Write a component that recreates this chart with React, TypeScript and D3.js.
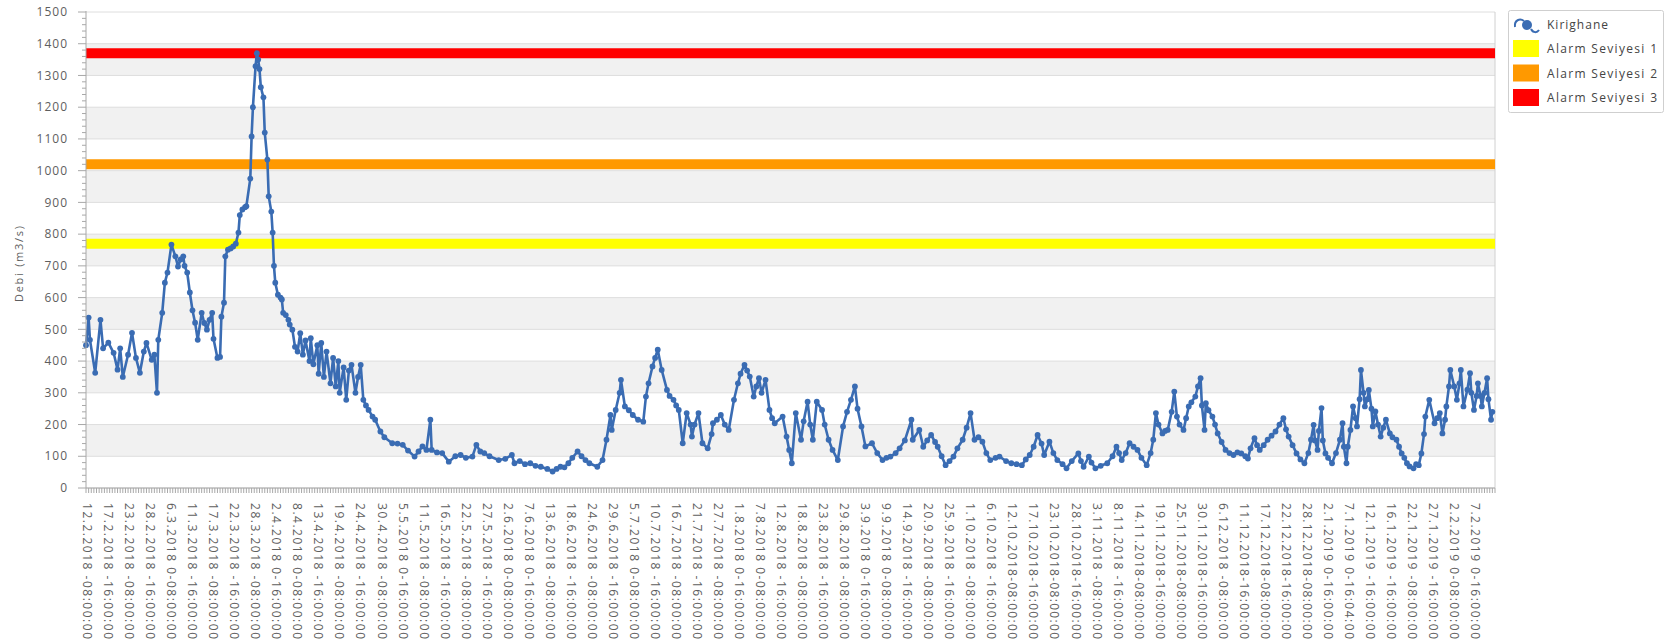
import React from "react";
import * as d3 from "d3";

// ---------- data ----------
const seriesName = "Kirighane";
const yTitle = "Debi (m3/s)";
const alarmNames = ["Alarm Seviyesi 1", "Alarm Seviyesi 2", "Alarm Seviyesi 3"];
const alarmLevels = [770, 1020, 1370];
const alarmColors = ["#ffff00", "#ff9900", "#ff0000"];
const yTicks = [0, 100, 200, 300, 400, 500, 600, 700, 800, 900, 1000, 1100, 1200, 1300, 1400, 1500];

const xLabels = [
  "12.2.2018 -08:00:00", "17.2.2018 -16:00:00", "23.2.2018 -08:00:00", "28.2.2018 -16:00:00",
  "6.3.2018 0-08:00:00", "11.3.2018 -16:00:00", "17.3.2018 -08:00:00", "22.3.2018 -16:00:00",
  "28.3.2018 -08:00:00", "2.4.2018 0-16:00:00", "8.4.2018 0-08:00:00", "13.4.2018 -16:00:00",
  "19.4.2018 -08:00:00", "24.4.2018 -16:00:00", "30.4.2018 -08:00:00", "5.5.2018 0-16:00:00",
  "11.5.2018 -08:00:00", "16.5.2018 -16:00:00", "22.5.2018 -08:00:00", "27.5.2018 -16:00:00",
  "2.6.2018 0-08:00:00", "7.6.2018 0-16:00:00", "13.6.2018 -08:00:00", "18.6.2018 -16:00:00",
  "24.6.2018 -08:00:00", "29.6.2018 -16:00:00", "5.7.2018 0-08:00:00", "10.7.2018 -16:00:00",
  "16.7.2018 -08:00:00", "21.7.2018 -16:00:00", "27.7.2018 -08:00:00", "1.8.2018 0-16:00:00",
  "7.8.2018 0-08:00:00", "12.8.2018 -16:00:00", "18.8.2018 -08:00:00", "23.8.2018 -16:00:00",
  "29.8.2018 -08:00:00", "3.9.2018 0-16:00:00", "9.9.2018 0-08:00:00", "14.9.2018 -16:00:00",
  "20.9.2018 -08:00:00", "25.9.2018 -16:00:00", "1.10.2018 -08:00:00", "6.10.2018 -16:00:00",
  "12.10.2018-08:00:00", "17.10.2018-16:00:00", "23.10.2018-08:00:00", "28.10.2018-16:00:00",
  "3.11.2018 -08:00:00", "8.11.2018 -16:00:00", "14.11.2018-08:00:00", "19.11.2018-16:00:00",
  "25.11.2018-08:00:00", "30.11.2018-16:00:00", "6.12.2018 -08:00:00", "11.12.2018-16:00:00",
  "17.12.2018-08:00:00", "22.12.2018-16:00:00", "28.12.2018-08:00:00", "2.1.2019 0-16:00:00",
  "7.1.2019 0-16:04:00", "12.1.2019 -16:00:00", "16.1.2019 -16:00:00", "22.1.2019 -08:00:00",
  "27.1.2019 -16:00:00", "2.2.2019 0-08:00:00", "7.2.2019 0-16:00:00",
];
// one label every 16 samples (8-hourly readings), first label on sample 1
const labelEvery = 16;
const labelOffset = 1;
const sampleCount = 1072;

// sample index (8 h steps) and flow (m3/s)
const sampleIdx = [
  0, 2, 3, 7, 11, 13, 17, 21, 24, 26, 28, 32, 35, 38, 41, 44, 46, 50, 52, 54, 55, 58, 60, 62, 65, 68, 70, 72, 74, 75, 77, 79, 81, 83, 85, 88, 90, 92, 94, 96, 97, 100, 102, 103, 105, 106, 108, 110, 112, 114, 116, 117, 119, 121, 122, 125, 126, 127, 129, 130, 131, 132, 133, 135, 136, 138, 139, 141, 142, 143, 144, 146, 148, 149, 150, 152, 154, 155, 157, 159, 161, 163, 165, 167, 170, 171, 173, 176, 177, 179, 181, 183, 186, 188, 190, 192, 193, 196, 198, 200, 202, 205, 207, 209, 211, 213, 215, 218, 220, 224, 227, 233, 237, 241, 245, 250, 253, 256, 259, 262, 263, 267, 271, 276, 281, 285, 289, 294, 297, 300, 303, 307, 314, 319, 324, 326, 330, 334, 338, 342, 346, 351, 355, 358, 361, 364, 367, 370, 374, 377, 380, 383, 389, 393, 396, 399, 400, 403, 406, 407, 410, 413, 416, 420, 424, 426, 428, 431, 433, 435, 438, 442, 444, 447, 449, 451, 454, 457, 460, 461, 463, 466, 469, 473, 476, 477, 480, 483, 486, 489, 493, 496, 498, 501, 503, 505, 508, 510, 512, 514, 517, 520, 522, 524, 530, 533, 535, 537, 540, 544, 546, 549, 551, 553, 556, 560, 562, 565, 568, 572, 576, 579, 582, 585, 587, 590, 593, 598, 602, 606, 609, 612, 616, 619, 623, 628, 629, 634, 637, 640, 643, 646, 648, 651, 654, 657, 660, 663, 667, 670, 673, 676, 679, 682, 685, 688, 692, 695, 700, 704, 708, 712, 715, 718, 721, 724, 727, 729, 733, 736, 739, 743, 746, 750, 755, 757, 759, 763, 765, 768, 772, 777, 781, 784, 786, 788, 791, 794, 797, 800, 803, 807, 810, 812, 814, 816, 819, 821, 823, 826, 828, 830, 832, 835, 837, 839, 841, 844, 846, 848, 849, 851, 852, 854, 857, 859, 861, 864, 867, 870, 873, 876, 879, 882, 884, 886, 889, 891, 893, 896, 899, 902, 905, 908, 911, 913, 915, 918, 921, 924, 927, 930, 932, 934, 935, 937, 938, 940, 941, 943, 945, 948, 951, 954, 956, 957, 959, 960, 962, 964, 966, 967, 969, 970, 972, 973, 975, 976, 978, 979, 981, 983, 985, 987, 989, 992, 994, 997, 999, 1001, 1003, 1005, 1007, 1010, 1012, 1014, 1016, 1018, 1019, 1022, 1026, 1028, 1030, 1032, 1034, 1035, 1037, 1038, 1041, 1043, 1045, 1046, 1048, 1051, 1053, 1054, 1056, 1058, 1059, 1061, 1062, 1064, 1066, 1067, 1069, 1070,
];
const flow = [
  450, 537, 467, 363, 530, 440, 458, 426, 373, 440, 350, 420, 489, 410, 363, 430, 457, 404, 420, 300, 467, 552, 647, 679, 767, 730, 698, 720, 730, 700, 679, 616, 560, 521, 467, 552, 520, 499, 530, 552, 470, 410, 413, 540, 584, 730, 751, 755, 761, 770, 805, 860, 878, 885, 888, 975, 1108, 1200, 1329, 1370, 1350, 1320, 1263, 1231, 1120, 1035, 919, 871, 805, 700, 647, 609, 600, 594, 552, 545, 530, 515, 499, 445, 430, 488, 420, 465, 400, 472, 390, 450, 360, 457, 350, 430, 330, 410, 320, 400, 300, 380, 278, 370, 388, 300, 350, 388, 278, 260, 246, 225, 215, 178, 160, 141, 140, 136, 118, 99, 115, 131, 120, 215, 120, 112, 110, 83, 100, 104, 95, 99, 136, 115, 110, 100, 88, 92, 104, 78, 85, 75, 78, 70, 67, 60, 52, 60, 67, 65, 78, 95, 115, 100, 88, 78, 67, 88, 152, 230, 183, 246, 300, 341, 257, 245, 230, 215, 209, 288, 330, 383, 410, 436, 372, 309, 290, 278, 260, 246, 141, 236, 200, 162, 200, 236, 141, 125, 170, 204, 215, 230, 200, 183, 278, 330, 360, 388, 370, 351, 288, 320, 346, 300, 341, 246, 220, 204, 225, 162, 120, 78, 236, 152, 210, 272, 200, 152, 272, 246, 200, 152, 120, 88, 194, 240, 278, 320, 250, 194, 131, 141, 110, 88, 95, 99, 110, 125, 150, 215, 152, 183, 130, 150, 167, 145, 130, 100, 72, 85, 99, 125, 152, 190, 236, 152, 160, 146, 110, 88, 95, 99, 85, 78, 75, 72, 90, 104, 130, 167, 140, 104, 146, 110, 88, 75, 62, 85, 109, 85, 67, 99, 80, 62, 70, 78, 100, 130, 110, 88, 110, 141, 130, 120, 95, 72, 110, 152, 236, 200, 172, 180, 183, 240, 304, 225, 200, 183, 220, 257, 270, 288, 320, 346, 260, 183, 267, 245, 225, 200, 172, 145, 120, 110, 104, 112, 109, 100, 93, 125, 157, 135, 120, 135, 152, 165, 178, 200, 220, 185, 162, 135, 109, 90, 78, 110, 152, 199, 150, 120, 180, 252, 150, 109, 95, 78, 110, 152, 204, 130, 78, 130, 183, 257, 220, 194, 280, 372, 300, 257, 280, 309, 250, 194, 241, 200, 162, 190, 215, 172, 160, 152, 130, 109, 95, 78, 68, 62, 75, 72, 109, 170, 225, 278, 204, 220, 236, 172, 215, 257, 320, 372, 320, 278, 330, 372, 257, 310, 362, 300, 246, 290, 330, 290, 257, 300, 346, 280, 215, 240,
];

// ---------- chart ----------
const W = 1672;
const H = 644;
const M = { left: 86, right: 1495, top: 12, bottom: 488 };
const BLUE = "#3a6cb3";
const AXIS = "#a8a8a8";
const TXT = "#5e5e5e";
const FONT = "'Segoe UI', 'Open Sans', 'Liberation Sans', sans-serif";

export default function App() {
  const x = d3.scaleLinear().domain([0, sampleCount]).range([M.left, M.right]);
  const y = d3.scaleLinear().domain([0, 1500]).range([M.bottom, M.top]);
  const pts = sampleIdx.map((s, i) => ({ s, v: flow[i] }));
  const line = d3
    .line<{ s: number; v: number }>()
    .x((d) => x(d.s))
    .y((d) => y(d.v));

  const bands = yTicks.filter((t) => t < 1500 && Math.round(t / 100) % 2 === 1);
  const minorY = d3.range(0, 1501, 20).filter((v) => v % 100 !== 0);
  const minorX = d3.range(0, sampleCount + 1, 2);

  return (
    <svg
      width={W}
      height={H}
      style={{ position: "absolute", left: 0, top: 0, background: "#fff" }}
      fontFamily={FONT}
    >
      <rect x={0} y={0} width={W} height={H} fill="#fff" />
      {/* bands */}
      {bands.map((b) => (
        <rect
          key={"b" + b}
          x={M.left}
          y={y(b + 100)}
          width={M.right - M.left}
          height={y(b) - y(b + 100)}
          fill="#f1f1f1"
        />
      ))}
      {/* grid lines */}
      {yTicks.map((t) => (
        <line key={"g" + t} x1={M.left} x2={M.right} y1={y(t)} y2={y(t)} stroke="#dedede" strokeWidth={1} />
      ))}
      {/* right border */}
      <line x1={M.right} x2={M.right} y1={M.top} y2={M.bottom} stroke="#d0d0d0" />
      {/* alarm levels */}
      {alarmLevels.map((a, i) => (
        <line
          key={"a" + i}
          x1={M.left}
          x2={M.right}
          y1={y(a)}
          y2={y(a)}
          stroke={alarmColors[i]}
          strokeWidth={10}
        />
      ))}
      {/* series */}
      <path d={line(pts) || ""} fill="none" stroke={BLUE} strokeWidth={2.6} strokeLinejoin="round" />
      {pts.map((p, i) => (
        <circle key={"p" + i} cx={x(p.s)} cy={y(p.v)} r={2.9} fill={BLUE} />
      ))}
      {/* y axis */}
      <line x1={M.left} x2={M.left} y1={M.top - 1} y2={M.bottom} stroke={AXIS} />
      {yTicks.map((t) => (
        <g key={"yt" + t}>
          <line x1={M.left - 8} x2={M.left} y1={y(t)} y2={y(t)} stroke={AXIS} />
          <text
            x={68}
            y={y(t)}
            dy="0.35em"
            textAnchor="end"
            fontSize={12}
            letterSpacing={1}
            fill={TXT}
          >
            {t}
          </text>
        </g>
      ))}
      {minorY.map((v) => (
        <line key={"my" + v} x1={M.left - 4} x2={M.left} y1={y(v)} y2={y(v)} stroke={AXIS} />
      ))}
      <text
        transform={`translate(19,${(M.top + M.bottom) / 2 + 14}) rotate(-90)`}
        textAnchor="middle"
        dy="0.35em"
        fontSize={11}
        textLength={76}
        lengthAdjust="spacing"
        fill={TXT}
      >
        {yTitle}
      </text>
      {/* x axis */}
      <line x1={M.left} x2={M.right} y1={M.bottom} y2={M.bottom} stroke={AXIS} />
      {minorX.map((s) => (
        <line key={"mx" + s} x1={x(s)} x2={x(s)} y1={M.bottom} y2={M.bottom + 5} stroke={AXIS} />
      ))}
      {xLabels.map((l, k) => {
        const xs = x(labelOffset + k * labelEvery);
        return (
          <text
            key={"xl" + k}
            transform={`translate(${xs},503) rotate(90)`}
            dy="0.35em"
            fontSize={12}
            textLength={136}
            lengthAdjust="spacing"
            fill={TXT}
          >
            {l}
          </text>
        );
      })}
      {/* legend */}
      <rect x={1508.5} y={10.5} width={155} height={102} fill="#fff" stroke="#cfcfcf" rx={2} />
      <path d="M1515,27 C1514,20 1520,18 1524,21" fill="none" stroke={BLUE} strokeWidth={2} />
      <path d="M1531,29 C1533,33 1537,33 1539,30" fill="none" stroke={BLUE} strokeWidth={2} />
      <circle cx={1527} cy={25} r={5} fill={BLUE} />
      <text x={1547} y={25} dy="0.35em" fontSize={12} textLength={61} lengthAdjust="spacing" fill="#444">
        {seriesName}
      </text>
      {alarmNames.map((n, i) => (
        <g key={"lg" + i}>
          <rect x={1513} y={40 + i * 24.5} width={26} height={17} fill={alarmColors[i]} />
          <text
            x={1547}
            y={49 + i * 24.5}
            dy="0.35em"
            fontSize={12}
            textLength={110}
            lengthAdjust="spacing"
            fill="#444"
          >
            {n}
          </text>
        </g>
      ))}
    </svg>
  );
}
